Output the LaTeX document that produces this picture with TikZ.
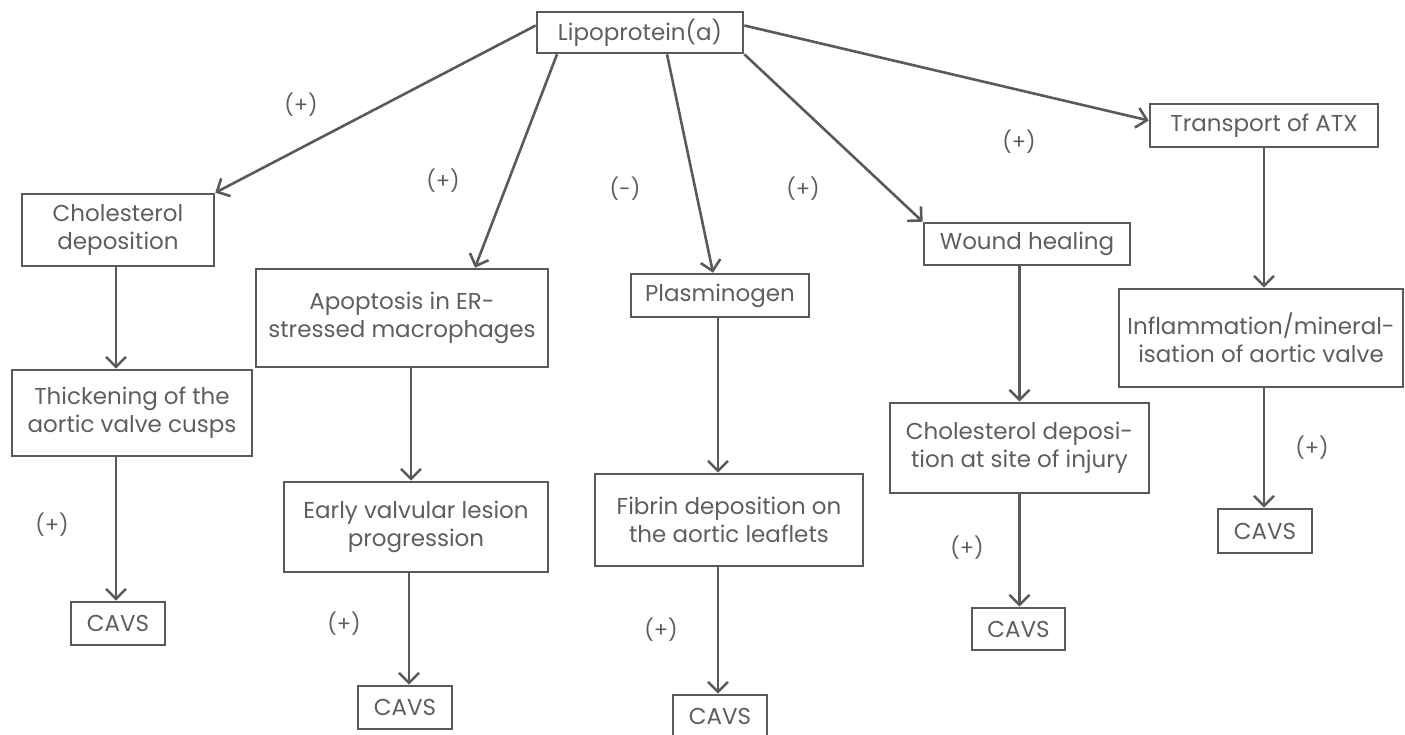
\documentclass[tikz,border=0pt]{standalone}
\usepackage{fontspec}
\setmainfont{Poppins}
\usetikzlibrary{arrows.meta}
\definecolor{ln}{HTML}{5A5A5A}
\definecolor{tx}{HTML}{5E5E5E}
\begin{document}
\begin{tikzpicture}[x=1pt,y=-1pt,
  box/.style={draw=ln, line width=2.6pt, inner sep=0pt, align=center, text=tx,
    font=\fontsize{23}{28}\selectfont},
  arr/.style={draw=ln, line width=2.6pt, -{Straight Barb[length=10pt,width=20pt,line width=2.6pt]}},
  sign/.style={text=tx, font=\fontsize{21}{24}\selectfont, inner sep=0pt}]
\useasboundingbox (0,0) rectangle (1405,735);
% nodes
\node[box, minimum width=206pt, minimum height=41pt] (lipo) at (640,32.5) {Lipoprotein(a)};
\node[box, minimum width=192pt, minimum height=72pt] (chol) at (118,230) {Cholesterol\\deposition};
\node[box, minimum width=240pt, minimum height=86pt] (thick) at (132,413) {Thickening of the\\aortic valve cusps};
\node[box, minimum width=94pt, minimum height=43pt] (cavsa) at (118,623.5) {CAVS};
\node[box, minimum width=292pt, minimum height=98pt] (apop) at (402,318) {Apoptosis in ER-\\stressed macrophages};
\node[box, minimum width=264pt, minimum height=90pt] (early) at (416,527) {Early valvular lesion\\progression};
\node[box, minimum width=94pt, minimum height=43pt] (cavsb) at (405,707.5) {CAVS};
\node[box, minimum width=178pt, minimum height=43pt] (plasm) at (720,295.5) {Plasminogen};
\node[box, minimum width=268pt, minimum height=92pt] (fibrin) at (729,520) {Fibrin deposition on\\the aortic leaflets};
\node[box, minimum width=94pt, minimum height=43pt] (cavsc) at (720,716.5) {CAVS};
\node[box, minimum width=206pt, minimum height=42pt] (wound) at (1027,244) {Wound healing};
\node[box, minimum width=259pt, minimum height=90pt] (injury) at (1019.5,448) {Cholesterol deposi-\\tion at site of injury};
\node[box, minimum width=93pt, minimum height=42pt] (cavsd) at (1018.5,629) {CAVS};
\node[box, minimum width=228pt, minimum height=43pt] (trans) at (1264,125.5) {Transport of ATX};
\node[box, minimum width=284pt, minimum height=98pt] (inflam) at (1261,338) {Inflammation/mineral-\\isation of aortic valve};
\node[box, minimum width=94pt, minimum height=44pt] (cavse) at (1265,531) {CAVS};
% arrows from lipoprotein(a)
\draw[arr] ([yshift=7pt]lipo.west) -- (chol.north east);
\draw[arr] ([xshift=-83pt]lipo.south) -- ([xshift=73pt]apop.north);
\draw[arr] ([xshift=27pt]lipo.south) -- ([xshift=-7pt]plasm.north);
\draw[arr] (lipo.south east) -- (wound.north west);
\draw[arr] ([yshift=7pt]lipo.east) -- ([yshift=5pt]trans.west);
% vertical chains
\draw[arr] ([xshift=-2pt]chol.south) -- ([xshift=-2pt]chol.south |- thick.north);
\draw[arr] ([xshift=-2pt]chol.south |- thick.south) -- ([xshift=-2pt]cavsa.north);
\draw[arr] ([xshift=9pt]apop.south) -- ([xshift=9pt]apop.south |- early.north);
\draw[arr] ([xshift=4pt]cavsb.north |- early.south) -- ([xshift=4pt]cavsb.north);
\draw[arr] ([xshift=-2pt]plasm.south) -- ([xshift=-2pt]plasm.south |- fibrin.north);
\draw[arr] ([xshift=-2pt]cavsc.north |- fibrin.south) -- ([xshift=-2pt]cavsc.north);
\draw[arr] (wound.south -| injury.north) -- (injury.north);
\draw[arr] (injury.south) -- (injury.south |- cavsd.north);
\draw[arr] (trans.south) -- (trans.south |- inflam.north);
\draw[arr] (trans.south |- inflam.south) -- (trans.south |- cavse.north);
% signs
\node[sign] (s1) at (301,105) {(+)};
\node[sign] (s2) at (443,181) {(+)};
\node[sign] (s3) at (625,189) {(-)};
\node[sign] (s4) at (803,189) {(+)};
\node[sign] (s5) at (1019,142) {(+)};
\node[sign] (s6) at (52,525) {(+)};
\node[sign] (s7) at (344,624) {(+)};
\node[sign] (s8) at (661,630) {(+)};
\node[sign] (s9) at (967,548) {(+)};
\node[sign] (s10) at (1312,448) {(+)};
\end{tikzpicture}
\end{document}
